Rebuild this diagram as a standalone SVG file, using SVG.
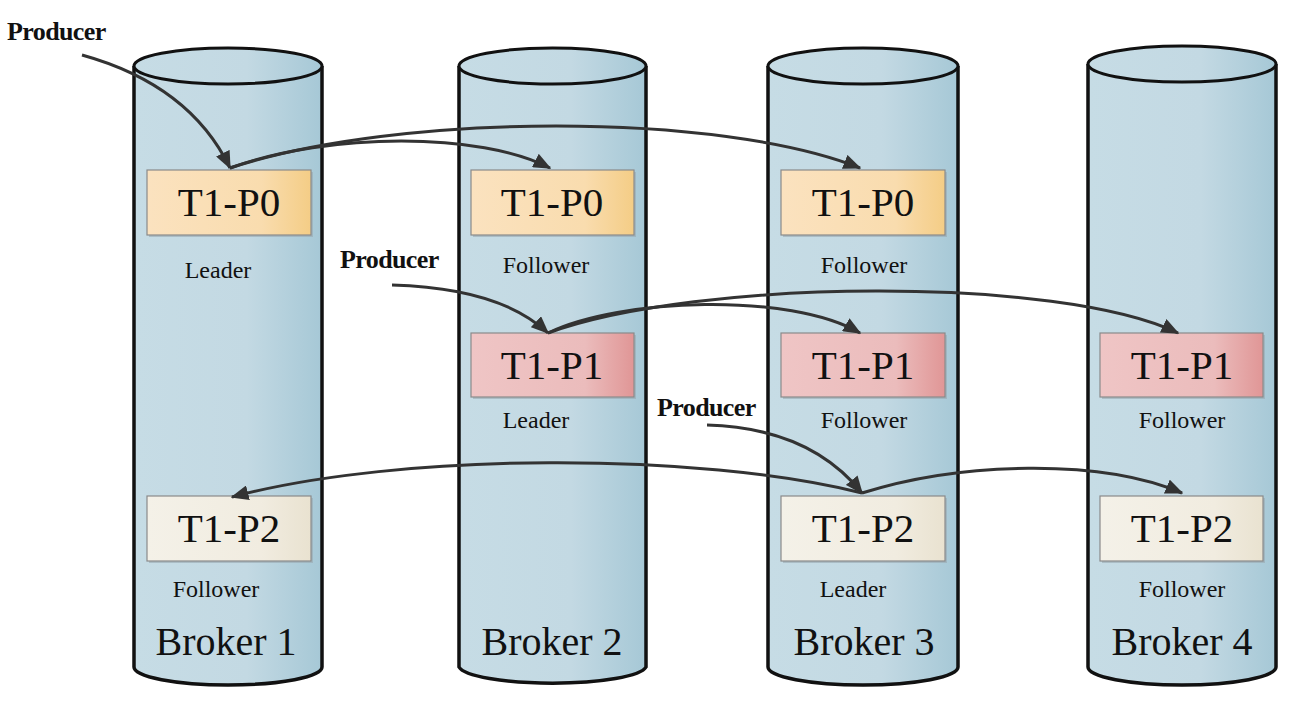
<svg xmlns="http://www.w3.org/2000/svg" width="1314" height="714" viewBox="0 0 1314 714">
<style>
.cyl{fill:url(#cylg);stroke:#111;stroke-width:3.5}
.top{fill:url(#cylg);stroke:#111;stroke-width:3}
.box{stroke:#8a8a8a;stroke-width:1.2}
.shadow{fill:#9aa9b0;opacity:0.6}
.bt{font-family:"Liberation Serif",serif;font-size:41px;fill:#111;text-anchor:middle}
.lbl{font-family:"Liberation Serif",serif;font-size:24px;fill:#111;text-anchor:middle}
.prod{font-family:"Liberation Serif",serif;font-size:26px;font-weight:bold;fill:#111;letter-spacing:-0.6px}
.brk{font-family:"Liberation Serif",serif;font-size:40px;fill:#111;text-anchor:middle}
.conn path{fill:none;stroke:#333;stroke-width:3;marker-end:url(#ah)}
</style>
<defs>
<linearGradient id="cylg" x1="0" y1="0" x2="1" y2="0">
<stop offset="0" stop-color="#c6dce5"/><stop offset="0.6" stop-color="#c3d9e3"/><stop offset="1" stop-color="#a6c8d6"/>
</linearGradient>
<linearGradient id="g0" x1="0" y1="0" x2="1" y2="0"><stop offset="0" stop-color="#fbe2bf"/><stop offset="0.7" stop-color="#f9dcae"/><stop offset="1" stop-color="#f4cd86"/></linearGradient>
<linearGradient id="g1" x1="0" y1="0" x2="1" y2="0"><stop offset="0" stop-color="#efc5c5"/><stop offset="0.7" stop-color="#ebbcbc"/><stop offset="1" stop-color="#e09696"/></linearGradient>
<linearGradient id="g2" x1="0" y1="0" x2="1" y2="0"><stop offset="0" stop-color="#f4f1e8"/><stop offset="0.7" stop-color="#f1ece0"/><stop offset="1" stop-color="#e9e2d0"/></linearGradient>
<marker id="ah" markerWidth="6" markerHeight="5" refX="5.5" refY="2.5" orient="auto" markerUnits="strokeWidth">
<path d="M0,0 L6,2.5 L0,5 Z" fill="#333"/>
</marker>
</defs>
<rect width="1314" height="714" fill="#fff"/>

<g id="broker1">
<path class="cyl" d="M134,66 L134,667 A94,18 0 0 0 322,667 L322,66"/>
<ellipse class="top" cx="228" cy="66" rx="94" ry="18"/>
<text class="brk" x="226" y="655">Broker 1</text>
</g>
<g id="broker2">
<path class="cyl" d="M459,66 L459,667 A94,18 0 0 0 646,667 L646,66"/>
<ellipse class="top" cx="552.5" cy="66" rx="93.5" ry="18"/>
<text class="brk" x="552" y="655">Broker 2</text>
</g>
<g id="broker3">
<path class="cyl" d="M768,66 L768,667 A95,18 0 0 0 958,667 L958,66"/>
<ellipse class="top" cx="863" cy="66" rx="95" ry="18"/>
<text class="brk" x="864" y="655">Broker 3</text>
</g>
<g id="broker4">
<path class="cyl" d="M1088,64 L1088,667 A94,18 0 0 0 1276,667 L1276,64"/>
<ellipse class="top" cx="1182" cy="64" rx="94" ry="18"/>
<text class="brk" x="1182" y="655">Broker 4</text>
</g>

<g id="b1-p0">
<rect class="shadow" x="149" y="172" width="164" height="65"/>
<rect class="box" x="147" y="170" width="164" height="65" fill="url(#g0)"/>
<text class="bt" x="229" y="216">T1-P0</text>
<text class="lbl" x="218" y="278">Leader</text>
</g>
<g id="b2-p0">
<rect class="shadow" x="473" y="172" width="163" height="65"/>
<rect class="box" x="471" y="170" width="163" height="65" fill="url(#g0)"/>
<text class="bt" x="552" y="216">T1-P0</text>
<text class="lbl" x="546" y="273">Follower</text>
</g>
<g id="b3-p0">
<rect class="shadow" x="783" y="172" width="164" height="65"/>
<rect class="box" x="781" y="170" width="164" height="65" fill="url(#g0)"/>
<text class="bt" x="863" y="216">T1-P0</text>
<text class="lbl" x="864" y="273">Follower</text>
</g>

<g id="b2-p1">
<rect class="shadow" x="473" y="335" width="163" height="64"/>
<rect class="box" x="471" y="333" width="163" height="64" fill="url(#g1)"/>
<text class="bt" x="552" y="379">T1-P1</text>
<text class="lbl" x="536" y="428">Leader</text>
</g>
<g id="b3-p1">
<rect class="shadow" x="783" y="335" width="164" height="64"/>
<rect class="box" x="781" y="333" width="164" height="64" fill="url(#g1)"/>
<text class="bt" x="863" y="379">T1-P1</text>
<text class="lbl" x="864" y="428">Follower</text>
</g>
<g id="b4-p1">
<rect class="shadow" x="1102" y="335" width="163" height="64"/>
<rect class="box" x="1100" y="333" width="163" height="64" fill="url(#g1)"/>
<text class="bt" x="1182" y="379">T1-P1</text>
<text class="lbl" x="1182" y="428">Follower</text>
</g>

<g id="b1-p2">
<rect class="shadow" x="149" y="498" width="164" height="65"/>
<rect class="box" x="147" y="496" width="164" height="65" fill="url(#g2)"/>
<text class="bt" x="229" y="542">T1-P2</text>
<text class="lbl" x="216" y="597">Follower</text>
</g>
<g id="b3-p2">
<rect class="shadow" x="783" y="498" width="164" height="65"/>
<rect class="box" x="781" y="496" width="164" height="65" fill="url(#g2)"/>
<text class="bt" x="863" y="542">T1-P2</text>
<text class="lbl" x="853" y="597">Leader</text>
</g>
<g id="b4-p2">
<rect class="shadow" x="1102" y="498" width="163" height="65"/>
<rect class="box" x="1100" y="496" width="163" height="65" fill="url(#g2)"/>
<text class="bt" x="1182" y="542">T1-P2</text>
<text class="lbl" x="1182" y="597">Follower</text>
</g>

<g id="producers">
<text class="prod" x="7" y="40">Producer</text>
<text class="prod" x="340" y="268">Producer</text>
<text class="prod" x="657" y="416">Producer</text>
</g>

<g id="connectors" class="conn">
<path d="M82,55 Q190,85 230,168"/>
<path d="M230,168 C330,132 480,132 550,168"/>
<path d="M230,168 C400,112 720,112 860,168"/>
<path d="M392,285 Q500,288 548,333"/>
<path d="M548,333 C620,298 790,292 860,333"/>
<path d="M548,333 C700,278 1060,276 1178,333"/>
<path d="M707,425 Q810,428 862,493"/>
<path d="M862,493 C700,452 400,452 232,497"/>
<path d="M862,493 C960,462 1100,458 1182,493"/>
</g>
</svg>
